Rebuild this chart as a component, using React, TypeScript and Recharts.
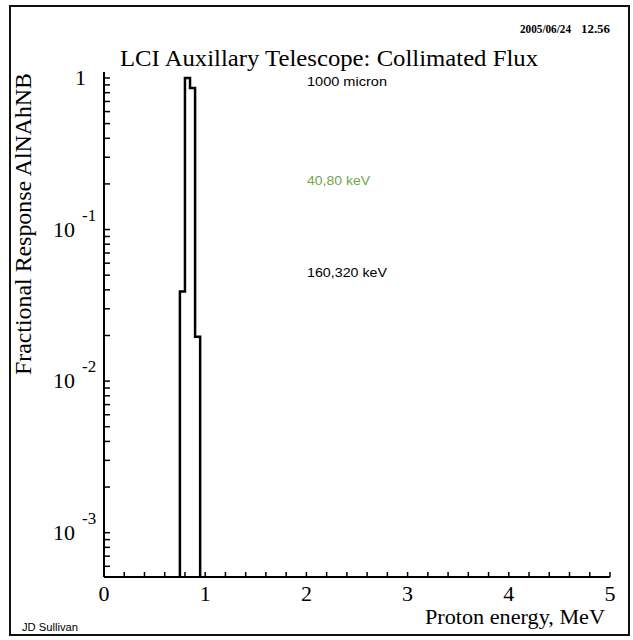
import React from "react";
import { LineChart, Line, XAxis, YAxis } from "recharts";

// bin low edges (MeV) and fractional response per bin; 0 = empty bin
const binEdges = [0.7, 0.75, 0.8, 0.85, 0.9, 0.95, 1.0];
const response = [0, 0.039, 1.0, 0.86, 0.0196, 0, 0];

const xMajor = [0, 1, 2, 3, 4, 5];
const yDecades = [1, 0.1, 0.01, 0.001];
const Y_MIN = 5.1e-4;
const Y_MAX = 1.095;

const SERIF = "'Liberation Serif', 'Times New Roman', serif";
const SANS = "'Liberation Sans', Arial, sans-serif";

// empty bins sit far under the axis and get clipped, like ROOT does
const data = binEdges.map((e, i) => ({
  energy: e,
  response: response[i] > 0 ? response[i] : 1e-9,
}));

const xTicks: number[] = [];
xMajor.forEach((m, i) => {
  xTicks.push(m);
  if (i < xMajor.length - 1) [0.2, 0.4, 0.6, 0.8].forEach((f) => xTicks.push(Math.round((m + f) * 10) / 10));
});

const yTicks: number[] = [];
yDecades.forEach((d) => {
  yTicks.push(d);
  [2, 3, 4, 5, 6, 7, 8, 9].forEach((k) => {
    const v = (d / 10) * k;
    if (v >= Y_MIN && v <= Y_MAX) yTicks.push(v);
  });
});

const XLabel = (props: any) => {
  const { x, y, payload } = props;
  const v = payload.value;
  if (Math.abs(v - Math.round(v)) > 1e-6) return <g />;
  return (
    <text x={x} y={y + 24} textAnchor="middle" fontSize={22} fontFamily={SERIF} fill="#000">
      {Math.round(v)}
    </text>
  );
};

const YLabel = (props: any) => {
  const { x, y, payload } = props;
  const lg = Math.log10(payload.value);
  const exp = Math.round(lg);
  if (Math.abs(lg - exp) > 1e-6) return <g />;
  if (exp === 0) {
    return (
      <text x={x - 18} y={y + 7} textAnchor="end" fontSize={22} fontFamily={SERIF} fill="#000">
        1
      </text>
    );
  }
  return (
    <g>
      <text x={x - 29} y={y + 7} textAnchor="end" fontSize={22} fontFamily={SERIF} fill="#000">
        10
      </text>
      <text x={x - 22} y={y - 9} fontSize={17} fontFamily={SERIF} fill="#000">
        {`-${-exp}`}
      </text>
    </g>
  );
};

const tickStroke = { stroke: "#000", strokeWidth: 1.5 };

export default function App() {
  return (
    <div style={{ position: "absolute", left: 0, top: 0, width: 633, height: 640, background: "#fff" }}>
      {/* page furniture: frame, title, labels (behind the chart) */}
      <svg width={633} height={640} style={{ position: "absolute", left: 0, top: 0 }}>
        <rect x={10} y={6} width={619} height={629} fill="none" stroke="#111" strokeWidth={2} />
        <text x={520} y={33} fontSize={12} fontWeight="bold" fontFamily={SERIF} textLength={51} lengthAdjust="spacingAndGlyphs">
          2005/06/24
        </text>
        <text x={581} y={33} fontSize={12} fontWeight="bold" fontFamily={SERIF} textLength={29} lengthAdjust="spacingAndGlyphs">
          12.56
        </text>
        <text x={120} y={66} fontSize={24} fontFamily={SERIF} textLength={418} lengthAdjust="spacingAndGlyphs">
          LCI Auxillary Telescope: Collimated Flux
        </text>
        <text
          transform="translate(31,224) rotate(-90)"
          textAnchor="middle"
          fontSize={23}
          fontFamily={SERIF}
          textLength={302}
          lengthAdjust="spacingAndGlyphs"
        >
          Fractional Response AlNAhNB
        </text>
        <text x={425} y={624} fontSize={22} fontFamily={SERIF} textLength={180} lengthAdjust="spacingAndGlyphs">
          Proton energy, MeV
        </text>
        <text x={22} y={631} fontSize={10} fontFamily={SANS} textLength={56} lengthAdjust="spacingAndGlyphs">
          JD Sullivan
        </text>
        <text x={307} y={86} fontSize={12} fontFamily={SANS} textLength={80} lengthAdjust="spacingAndGlyphs">
          1000 micron
        </text>
        <text x={307} y={185} fontSize={12} fontFamily={SANS} fill="#6ea84a" textLength={63} lengthAdjust="spacingAndGlyphs">
          40,80 keV
        </text>
        <text x={307} y={277} fontSize={12} fontFamily={SANS} textLength={80} lengthAdjust="spacingAndGlyphs">
          160,320 keV
        </text>
      </svg>

      <div style={{ position: "absolute", left: 0, top: 0 }}>
        <LineChart width={633} height={640} data={data} margin={{ top: 72, right: 23, bottom: 0, left: 0 }}>
          {/* negative tickSize turns the built-in tick lines inward */}
          <XAxis
            dataKey="energy"
            type="number"
            domain={[0, 5]}
            ticks={xTicks}
            interval={0}
            tick={XLabel}
            tickSize={-5}
            tickMargin={5}
            tickLine={tickStroke}
            height={63}
            axisLine={{ stroke: "#000", strokeWidth: 2 }}
          />
          {/* top and right edges of the frame */}
          <XAxis
            xAxisId="top"
            orientation="top"
            dataKey="energy"
            type="number"
            domain={[0, 5]}
            height={0}
            tick={false}
            tickLine={false}
            axisLine={{ stroke: "#000", strokeWidth: 2 }}
          />
          <YAxis
            type="number"
            scale="log"
            domain={[Y_MIN, Y_MAX]}
            allowDataOverflow
            ticks={yTicks}
            interval={0}
            tick={YLabel}
            tickSize={-6}
            tickMargin={6}
            tickLine={tickStroke}
            width={104}
            axisLine={{ stroke: "#000", strokeWidth: 2 }}
          />
          <YAxis
            yAxisId="right"
            orientation="right"
            type="number"
            scale="log"
            domain={[Y_MIN, Y_MAX]}
            allowDataOverflow
            width={0}
            tick={false}
            tickLine={false}
            axisLine={{ stroke: "#000", strokeWidth: 2 }}
          />
          <Line
            dataKey="response"
            type="stepAfter"
            stroke="#000"
            strokeWidth={2.5}
            dot={false}
            isAnimationActive={false}
          />
        </LineChart>
      </div>
    </div>
  );
}
